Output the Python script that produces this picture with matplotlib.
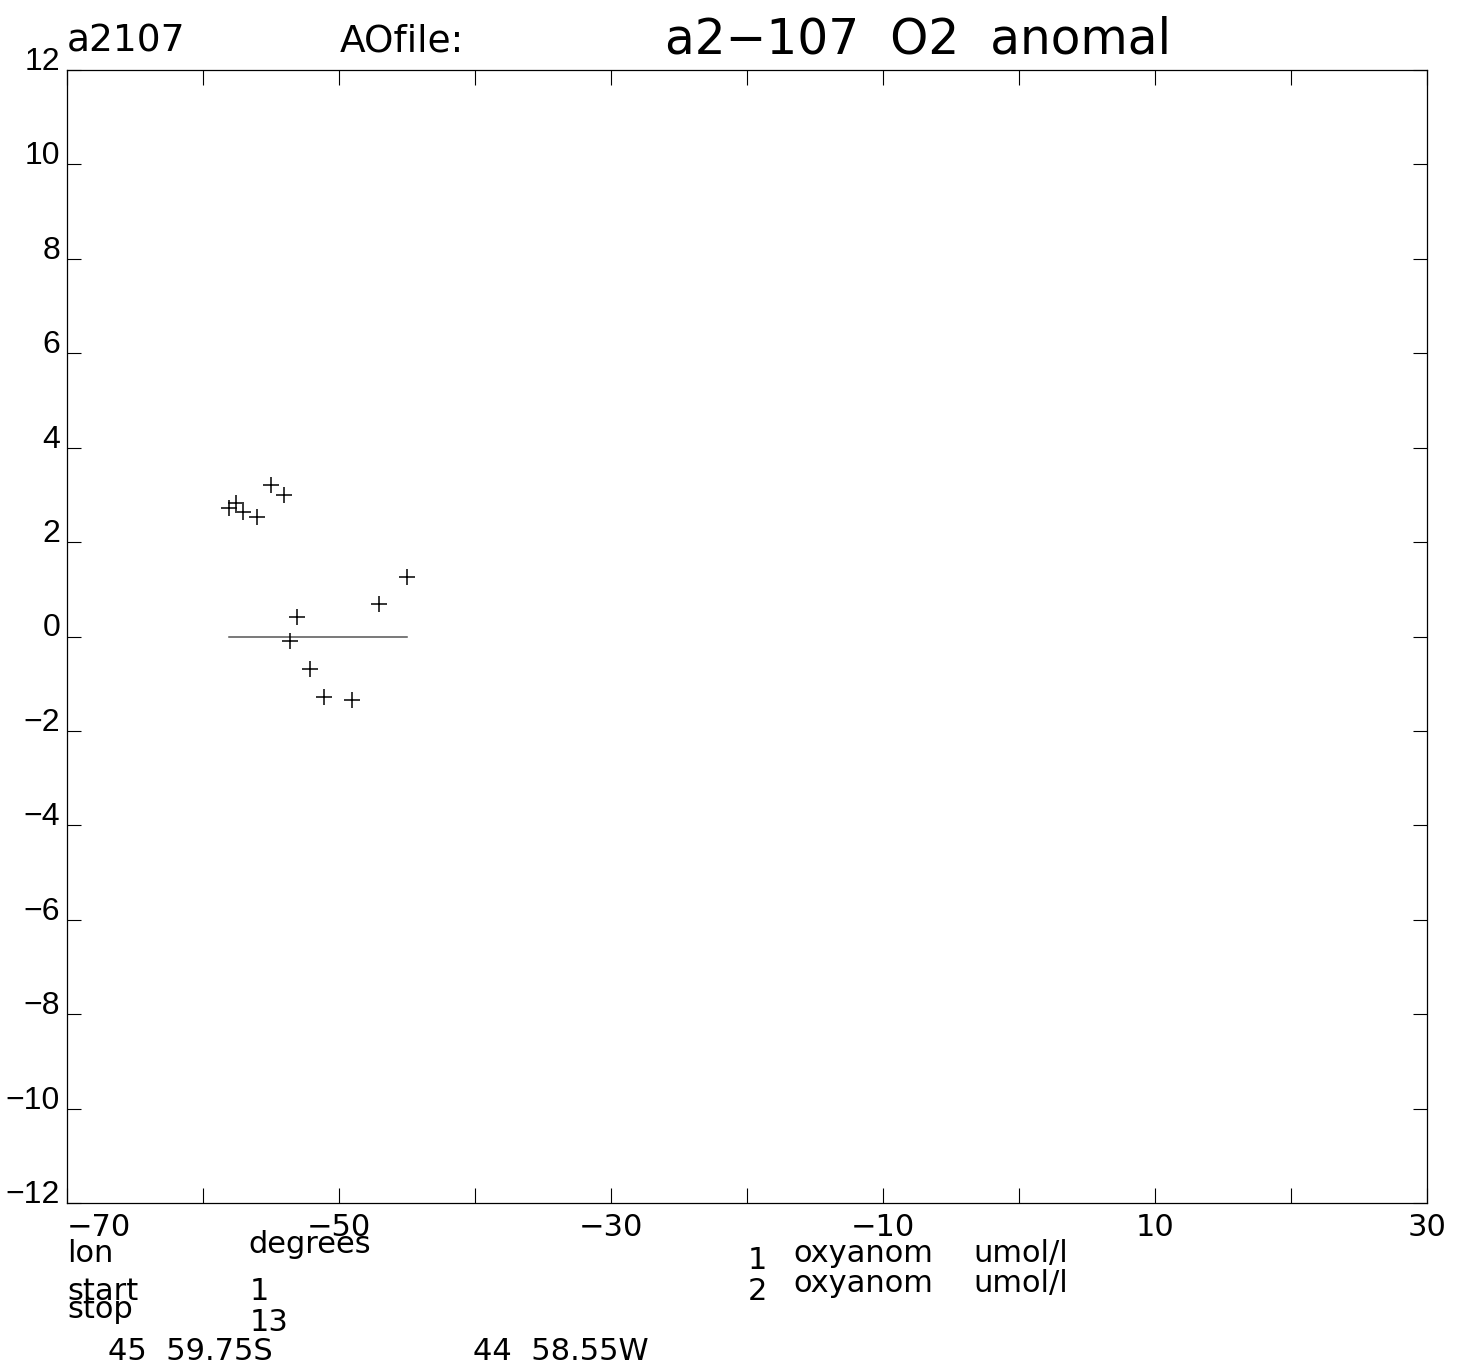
import matplotlib
matplotlib.use("Agg")
import matplotlib.pyplot as plt

plt.rcParams['font.family'] = ['DejaVu Sans']

# station longitudes (degrees) and oxygen anomaly (umol/l)
lon = [-58.07, -57.57, -57.04, -56.05, -55.02, -54.02, -53.60,
       -53.07, -52.13, -51.10, -49.07, -47.04, -45.02]
oxyanom = [2.73, 2.82, 2.64, 2.54, 3.21, 3.00, -0.09,
           0.41, -0.69, -1.29, -1.35, 0.69, 1.25]

xtick_vals = list(range(-70, 31, 10))
xtick_labels = ['\u221270', '', '\u221250', '', '\u221230', '', '\u221210', '', '10', '', '30']
ytick_vals = list(range(-12, 13, 2))
ytick_labels = [str(v).replace('-', '\u2212') for v in ytick_vals]

W, H = 1464, 1368
fig = plt.figure(figsize=(W / 100, H / 100), dpi=100)
ax = fig.add_axes([67 / W, 1 - 1203 / H, 1360 / W, 1133 / H])

# zero reference line over the span of the data
ax.plot([min(lon), max(lon)], [0, 0], color='#555555', lw=1.1)
ax.plot(lon, oxyanom, linestyle='none', marker='+', markersize=11,
        markeredgewidth=1.1, color='black')

ax.set_xlim(-70, 30)
ax.set_ylim(-12, 12)
ax.set_xticks(xtick_vals)
ax.set_xticklabels(xtick_labels)
ax.set_yticks(ytick_vals)
ax.set_yticklabels(ytick_labels)
for lab in ax.get_yticklabels():
    lab.set_va('baseline')
    lab.set_family('Liberation Sans')
    lab.set_fontsize(23)
# first x label sits right of the corner
ax.get_xticklabels()[0].set_ha('left')

ax.tick_params(axis='x', direction='in', length=11, width=0.8, top=True,
               labelsize=22, pad=7, colors='black')
ax.tick_params(axis='y', direction='in', length=10, width=0.8, right=True,
               pad=5, colors='black')
for s in ax.spines.values():
    s.set_linewidth(0.9)


def ftext(px, py, s, size=22, **kw):
    # px, py: pixel position from top-left of the figure (text baseline)
    fig.text(px / W, 1 - py / H, s, fontsize=size, va='baseline', **kw)


# header
ftext(67, 51, 'a2107', size=27)
ftext(340, 51, 'AOfile:', size=27)
ftext(665, 53, 'a2\u2212107  O2  anomal', size=35)

# footer
ftext(67, 1262, 'lon')
ftext(248, 1253, 'degrees')
ftext(67, 1300, 'start')
ftext(250, 1300, '1')
ftext(67, 1318, 'stop')
ftext(250, 1331, '13')
ftext(108, 1360, '45  59.75S')
ftext(473, 1360, '44  58.55W')

ftext(748, 1269, '1')
ftext(793, 1262, 'oxyanom')
ftext(973, 1262, 'umol/l')
ftext(748, 1300, '2')
ftext(793, 1292, 'oxyanom')
ftext(973, 1292, 'umol/l')

fig.savefig('out.png', dpi=100, facecolor='white')
